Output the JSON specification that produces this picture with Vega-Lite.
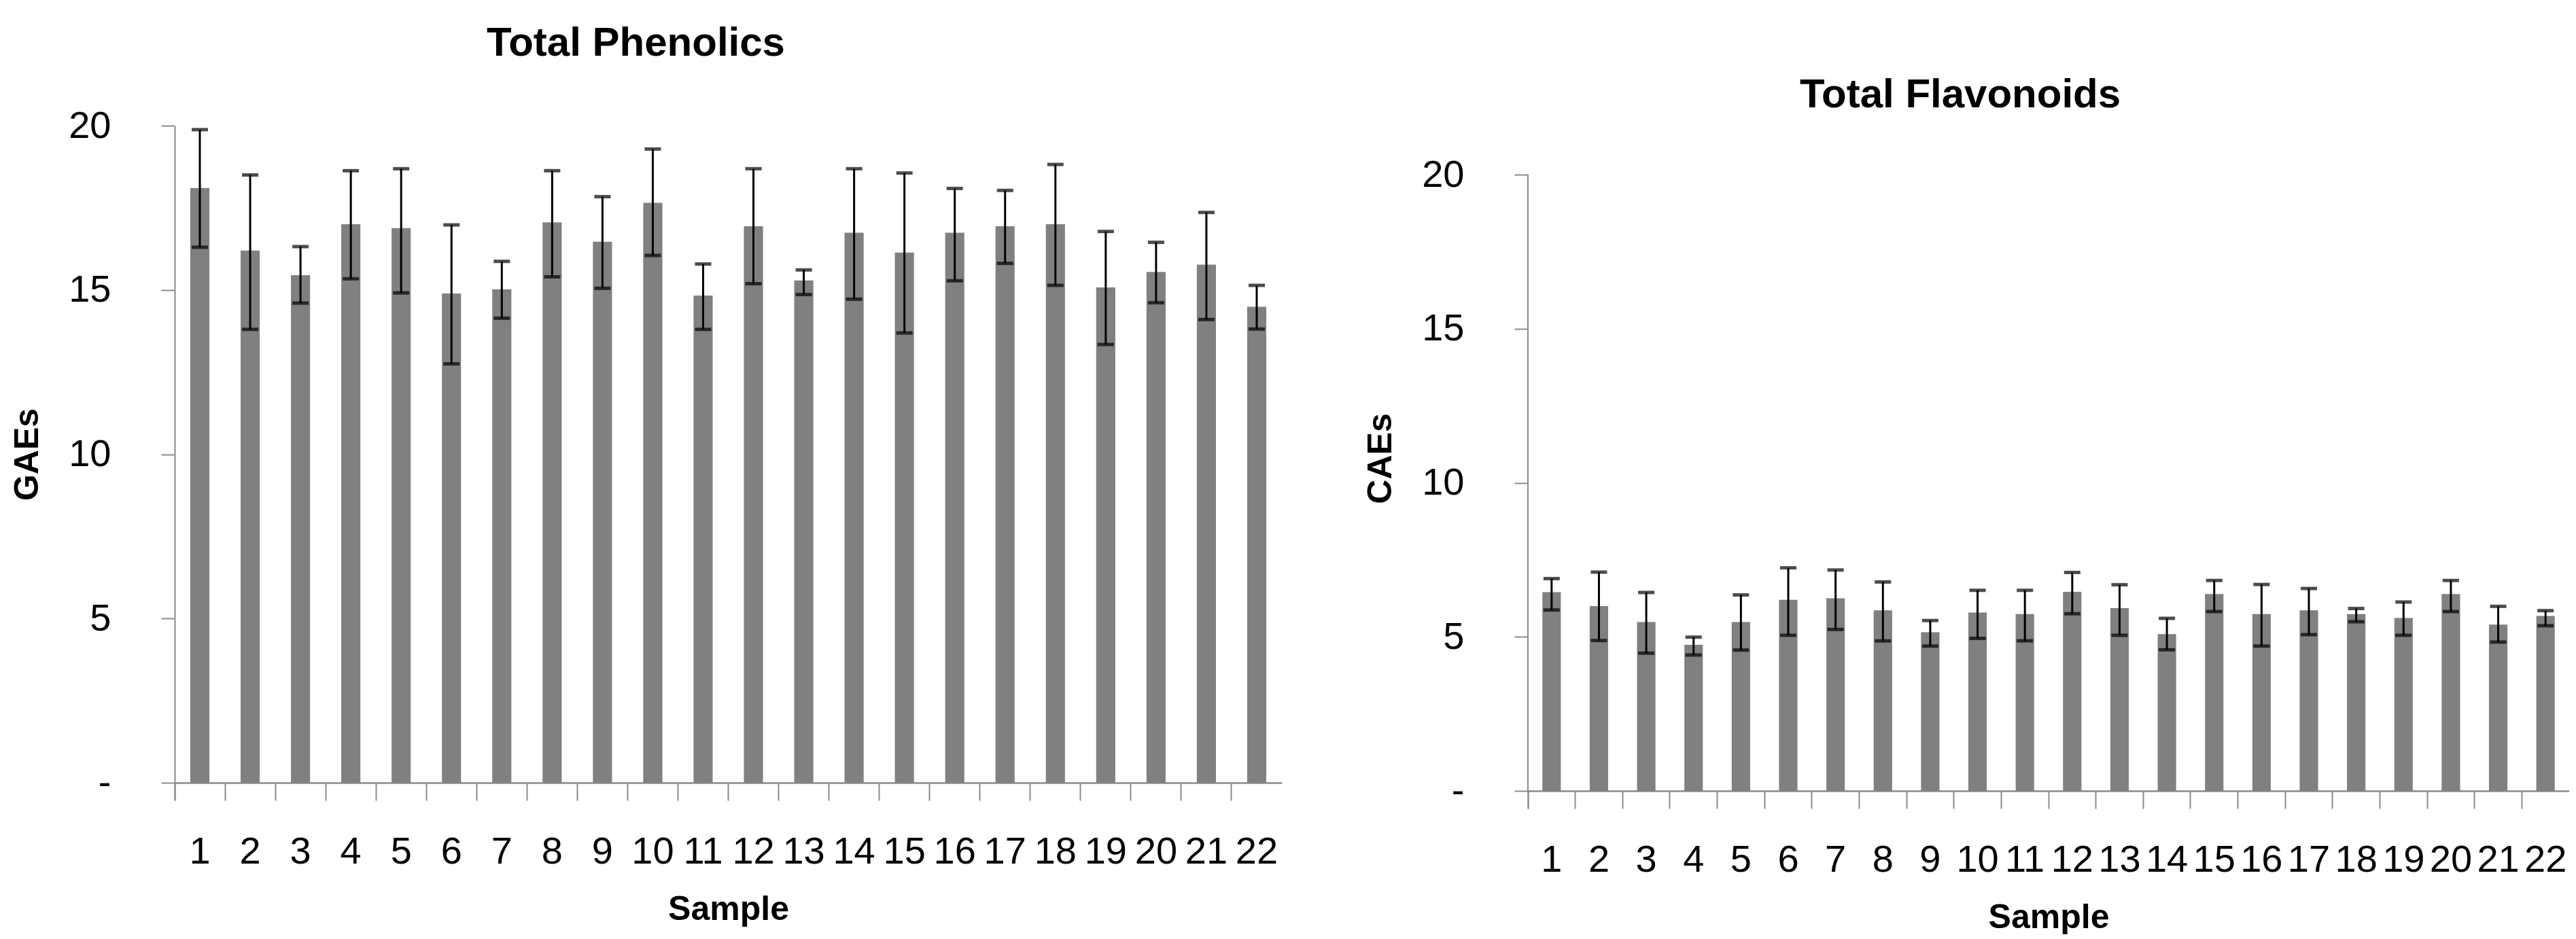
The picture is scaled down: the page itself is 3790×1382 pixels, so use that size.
{
  "$schema": "https://vega.github.io/schema/vega-lite/v6.json",
  "background": "white",
  "padding": {"left": 15, "top": 34, "right": 0, "bottom": 0},
  "spacing": 120,
  "config": {
    "view": {"stroke": null},
    "font": "Liberation Sans",
    "axis": {
      "labelFont": "Liberation Sans", "labelFontSize": 56, "labelColor": "#000000",
      "titleFont": "Liberation Sans", "titleFontWeight": "bold", "titleFontSize": 50, "titleColor": "#000000",
      "domainColor": "#8a8a8a", "tickColor": "#8a8a8a", "grid": false
    },
    "title": {"font": "Liberation Sans", "fontSize": 60, "fontWeight": "bold", "color": "#000000"}
  },
  "datasets": {
    "phen": [
      {"sample": 1, "value": 18.1, "lo": 16.3, "hi": 19.88},
      {"sample": 2, "value": 16.2, "lo": 13.8, "hi": 18.5},
      {"sample": 3, "value": 15.45, "lo": 14.6, "hi": 16.32},
      {"sample": 4, "value": 17.0, "lo": 15.34, "hi": 18.63},
      {"sample": 5, "value": 16.88, "lo": 14.91, "hi": 18.69},
      {"sample": 6, "value": 14.89, "lo": 12.75, "hi": 16.98},
      {"sample": 7, "value": 15.02, "lo": 14.14, "hi": 15.87},
      {"sample": 8, "value": 17.06, "lo": 15.4, "hi": 18.63},
      {"sample": 9, "value": 16.47, "lo": 15.05, "hi": 17.84},
      {"sample": 10, "value": 17.65, "lo": 16.05, "hi": 19.29},
      {"sample": 11, "value": 14.83, "lo": 13.8, "hi": 15.79},
      {"sample": 12, "value": 16.94, "lo": 15.19, "hi": 18.69},
      {"sample": 13, "value": 15.29, "lo": 14.86, "hi": 15.61},
      {"sample": 14, "value": 16.74, "lo": 14.72, "hi": 18.69},
      {"sample": 15, "value": 16.14, "lo": 13.69, "hi": 18.56},
      {"sample": 16, "value": 16.74, "lo": 15.28, "hi": 18.09},
      {"sample": 17, "value": 16.94, "lo": 15.81, "hi": 18.03},
      {"sample": 18, "value": 17.0, "lo": 15.14, "hi": 18.82},
      {"sample": 19, "value": 15.08, "lo": 13.34, "hi": 16.78},
      {"sample": 20, "value": 15.55, "lo": 14.61, "hi": 16.45},
      {"sample": 21, "value": 15.77, "lo": 14.1, "hi": 17.36},
      {"sample": 22, "value": 14.49, "lo": 13.81, "hi": 15.14}
    ],
    "flav": [
      {"sample": 1, "value": 6.45, "lo": 5.87, "hi": 6.89},
      {"sample": 2, "value": 6.0, "lo": 4.88, "hi": 7.1},
      {"sample": 3, "value": 5.48, "lo": 4.47, "hi": 6.44},
      {"sample": 4, "value": 4.74, "lo": 4.41, "hi": 4.99},
      {"sample": 5, "value": 5.48, "lo": 4.57, "hi": 6.36},
      {"sample": 6, "value": 6.2, "lo": 5.05, "hi": 7.24},
      {"sample": 7, "value": 6.25, "lo": 5.24, "hi": 7.17},
      {"sample": 8, "value": 5.86, "lo": 4.87, "hi": 6.78},
      {"sample": 9, "value": 5.15, "lo": 4.7, "hi": 5.53},
      {"sample": 10, "value": 5.79, "lo": 4.95, "hi": 6.51},
      {"sample": 11, "value": 5.74, "lo": 4.87, "hi": 6.51},
      {"sample": 12, "value": 6.46, "lo": 5.75, "hi": 7.09},
      {"sample": 13, "value": 5.93, "lo": 5.05, "hi": 6.69},
      {"sample": 14, "value": 5.09, "lo": 4.58, "hi": 5.6},
      {"sample": 15, "value": 6.39, "lo": 5.82, "hi": 6.83},
      {"sample": 16, "value": 5.74, "lo": 4.7, "hi": 6.7},
      {"sample": 17, "value": 5.86, "lo": 5.07, "hi": 6.57},
      {"sample": 18, "value": 5.74, "lo": 5.49, "hi": 5.92},
      {"sample": 19, "value": 5.61, "lo": 5.05, "hi": 6.13},
      {"sample": 20, "value": 6.39, "lo": 5.82, "hi": 6.83},
      {"sample": 21, "value": 5.4, "lo": 4.83, "hi": 5.99},
      {"sample": 22, "value": 5.68, "lo": 5.36, "hi": 5.85}
    ]
  },
  "hconcat": [
    {
      "width": 1629,
      "height": 967,
      "title": {"text": "Total Phenolics", "dx": -136, "offset": 62},
      "data": {"name": "phen"},
      "encoding": {
        "x": {
          "field": "sample", "type": "ordinal", "title": "Sample",
          "scale": {"paddingInner": 0, "paddingOuter": 0},
          "axis": {"labelAngle": 0, "bandPosition": 0, "tickExtra": true, "tickSize": 26, "tickWidth": 2, "domainWidth": 2.5, "labelPadding": 48, "titlePadding": 32}
        }
      },
      "layer": [
        {
          "mark": {"type": "bar", "color": "#808080", "width": {"band": 0.38}},
          "encoding": {
            "y": {
              "field": "value", "type": "quantitative", "title": "GAEs",
              "scale": {"domain": [0, 20], "nice": false},
              "axis": {"values": [0, 5, 10, 15, 20], "labelExpr": "datum.value == 0 ? '-' : datum.label", "tickSize": 20, "tickWidth": 2, "domainWidth": 2, "labelPadding": 74, "titlePadding": 35}
            }
          }
        },
        {
          "mark": {"type": "rule", "color": "#000000", "strokeWidth": 3},
          "encoding": {"y": {"field": "lo", "type": "quantitative", "title": "GAEs"}, "y2": {"field": "hi"}}
        },
        {
          "mark": {"type": "tick", "color": "#000000", "size": 24, "thickness": 5},
          "encoding": {"y": {"field": "lo", "type": "quantitative", "title": "GAEs"}}
        },
        {
          "mark": {"type": "tick", "color": "#000000", "size": 24, "thickness": 5},
          "encoding": {"y": {"field": "hi", "type": "quantitative", "title": "GAEs"}}
        }
      ]
    },
    {
      "width": 1532,
      "height": 979,
      "title": {"text": "Total Flavonoids", "dx": -130, "offset": 14},
      "data": {"name": "flav"},
      "encoding": {
        "x": {
          "field": "sample", "type": "ordinal", "title": "Sample",
          "scale": {"paddingInner": 0, "paddingOuter": 0},
          "axis": {"labelAngle": 0, "bandPosition": 0, "tickExtra": true, "tickSize": 26, "tickWidth": 2, "domainWidth": 2.5, "labelPadding": 48, "titlePadding": 32}
        }
      },
      "layer": [
        {
          "mark": {"type": "bar", "color": "#808080", "width": {"band": 0.39}},
          "encoding": {
            "y": {
              "field": "value", "type": "quantitative", "title": "CAEs",
              "scale": {"domain": [0, 21.59], "nice": false},
              "axis": {"values": [0, 5, 10, 15, 20], "domain": false, "labelExpr": "datum.value == 0 ? '-' : datum.label", "tickSize": 20, "tickWidth": 2, "labelPadding": 74, "titlePadding": 35}
            }
          }
        },
        {
          "mark": {"type": "rule", "color": "#8a8a8a", "strokeWidth": 2},
          "encoding": {
            "x": {"datum": 1, "type": "ordinal", "bandPosition": 0},
            "y": {"datum": 0, "type": "quantitative", "title": "CAEs"},
            "y2": {"datum": 20}
          }
        },
        {
          "mark": {"type": "rule", "color": "#000000", "strokeWidth": 3},
          "encoding": {"y": {"field": "lo", "type": "quantitative", "title": "CAEs"}, "y2": {"field": "hi"}}
        },
        {
          "mark": {"type": "tick", "color": "#000000", "size": 24, "thickness": 5},
          "encoding": {"y": {"field": "lo", "type": "quantitative", "title": "CAEs"}}
        },
        {
          "mark": {"type": "tick", "color": "#000000", "size": 24, "thickness": 5},
          "encoding": {"y": {"field": "hi", "type": "quantitative", "title": "CAEs"}}
        }
      ]
    }
  ]
}
